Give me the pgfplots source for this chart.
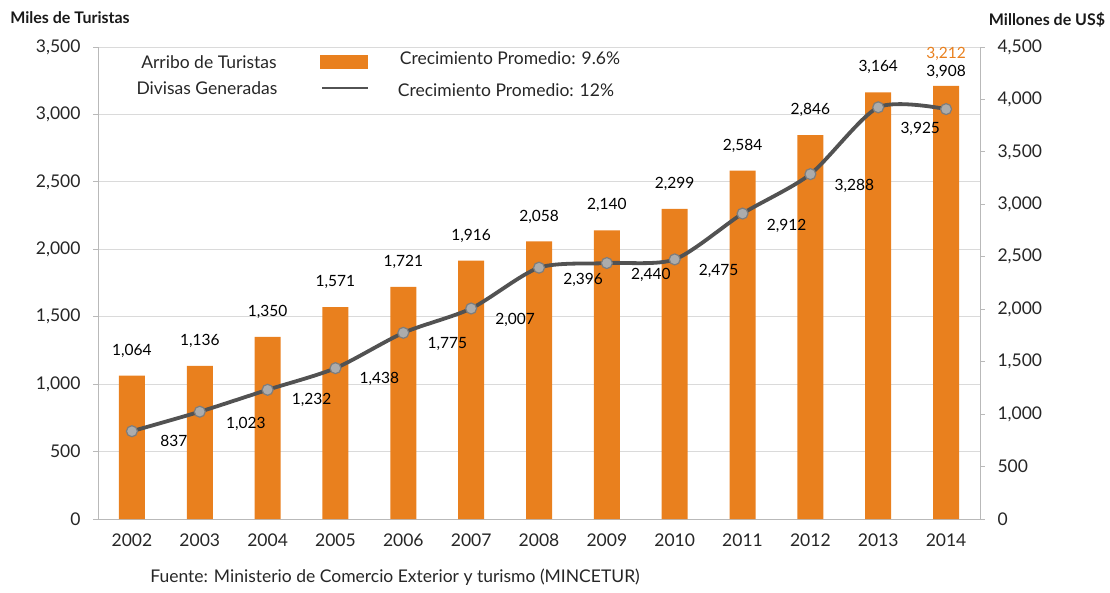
\documentclass[border=0pt]{standalone}
\usepackage{pgfplots}
\pgfplotsset{compat=1.18}
\usepackage{fontspec}
\setmainfont{Lato}
\definecolor{barorange}{RGB}{233,128,30}
\definecolor{linegray}{RGB}{82,82,82}
\definecolor{markgray}{RGB}{172,172,172}
\definecolor{gridgray}{RGB}{218,218,218}
\definecolor{axisgray}{RGB}{185,185,185}
\pgfplotstableread{
x    y     dy  pc
2002 1064  25  0
2003 1136  25  0
2004 1350  25  0
2005 1571  25  0
2006 1721  25  0
2007 1916  25  0
2008 2058  25  0
2009 2140  25  0
2010 2299  25  0
2011 2584  25  0
2012 2846  25  0
2013 3164  25  0
2014 3212  32  100
}\bars
\pgfplotstableread{
x    y     dx  dy
2002 837   42  -10
2003 1023  46  -12
2004 1232  44  -10
2005 1438  44  -11
2006 1775  44  -11
2007 2007  44  -11
2008 2396  44  -12
2009 2440  44  -12
2010 2475  44  -12
2011 2912  44  -12
2012 3288  44  -12
2013 3925  42  -22
2014 3908  0   37
}\divisas
\begin{document}
\begin{tikzpicture}
\useasboundingbox (0pt,0pt) rectangle (1110pt,592pt);
\begin{axis}[
  at={(98pt,73pt)}, anchor=south west, scale only axis,
  width=882pt, height=472pt,
  xmin=2001.5, xmax=2014.5, ymin=0, ymax=3500,
  axis y line*=left, axis x line*=bottom,
  axis line style={draw=axisgray, line width=0.9pt},
  xtick={2002,2003,2004,2005,2006,2007,2008,2009,2010,2011,2012,2013,2014},
  xticklabels={2002,2003,2004,2005,2006,2007,2008,2009,2010,2011,2012,2013,2014},
  major x tick style={draw=none},
  ytick={0,500,1000,1500,2000,2500,3000,3500},
  yticklabel style={/pgf/number format/1000 sep={,}, /pgf/number format/assume math mode=true, xshift=-9pt},
  ytick style={draw=axisgray, line width=0.8pt},
  tick align=outside, major tick length=5pt,
  ymajorgrids, grid style={gridgray, line width=1pt},
  ticklabel style={font=\fontsize{17.5}{20}\selectfont, text=black!85},
  xticklabel style={yshift=-6pt},
  clip=false,
]
\addplot[ybar, bar width=26pt, bar shift=0pt, fill=barorange, draw=none,
  visualization depends on={\thisrow{dy} \as \dyv},
  visualization depends on={\thisrow{pc} \as \pcv},
  nodes near coords,
  every node near coord/.append style={anchor=center, yshift=\dyv pt,
     text=barorange!\pcv!black, font=\fontsize{15.5}{18}\selectfont,
     /pgf/number format/1000 sep={,}, /pgf/number format/assume math mode=true},
] table[x=x, y=y] {\bars};
\end{axis}
\begin{axis}[
  at={(98pt,73pt)}, anchor=south west, scale only axis,
  width=882pt, height=472pt,
  xmin=2001.5, xmax=2014.5, ymin=0, ymax=4500,
  axis y line*=right, axis x line=none,
  axis line style={draw=axisgray, line width=0.9pt},
  ytick={0,500,1000,1500,2000,2500,3000,3500,4000,4500},
  yticklabel style={/pgf/number format/1000 sep={,}, /pgf/number format/assume math mode=true, xshift=9pt},
  ytick style={draw=axisgray, line width=0.8pt},
  tick align=outside, major tick length=5pt,
  ticklabel style={font=\fontsize{17.5}{20}\selectfont, text=black!85},
  clip=false,
]
\addplot[linegray, line width=3.8pt, smooth, tension=0.45,
  mark=*, mark size=5.5pt,
  mark options={fill=markgray, draw=linegray!75, line width=1.2pt},
  visualization depends on={\thisrow{dx} \as \dxv},
  visualization depends on={\thisrow{dy} \as \dyv},
  nodes near coords,
  every node near coord/.append style={anchor=center, xshift=\dxv pt, yshift=\dyv pt,
     text=black, font=\fontsize{15.5}{18}\selectfont,
     /pgf/number format/1000 sep={,}, /pgf/number format/assume math mode=true},
] table[x=x, y=y] {\divisas};
\end{axis}
% headers
\node[font=\bfseries\fontsize{16}{18}\selectfont, text=black!90] at (70pt,574pt) {Miles de Turistas};
\node[font=\bfseries\fontsize{16}{18}\selectfont, text=black!90] at (1047pt,572pt) {Millones de US\$};
% legend
\node[font=\fontsize{17.5}{20}\selectfont, text=black!85] at (209pt,530pt) {Arribo de Turistas};
\fill[barorange] (320pt,523pt) rectangle (368pt,537pt);
\node[font=\fontsize{17.5}{20}\selectfont, text=black!85] at (207pt,504pt) {Divisas Generadas};
\draw[linegray, line width=2.5pt] (322pt,504pt) -- (368pt,504pt);
\node[font=\fontsize{17.5}{20}\selectfont, text=black!85] at (510pt,534pt) {Crecimiento Promedio: 9.6\%};
\node[font=\fontsize{17.5}{20}\selectfont, text=black!85] at (506pt,502pt) {Crecimiento Promedio: 12\%};
% footer
\node[font=\fontsize{17.5}{20}\selectfont, text=black!85] at (395pt,15pt) {Fuente: Ministerio de Comercio Exterior y turismo (MINCETUR)};
\end{tikzpicture}
\end{document}
